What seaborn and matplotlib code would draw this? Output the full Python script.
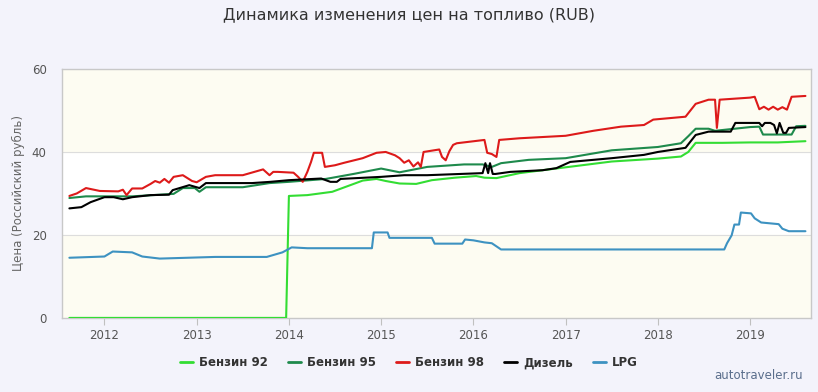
import numpy as np
import pandas as pd
import matplotlib
matplotlib.use("Agg")
import matplotlib.pyplot as plt
import seaborn as sns

# decimal years and prices (RUB)
benz92_t = [2011.62, 2013.97, 2014.0, 2014.2, 2014.47, 2014.8, 2014.95, 2015.05, 2015.2, 2015.38,
            2015.55, 2015.8, 2016.03, 2016.12, 2016.25, 2016.5, 2017.0, 2017.5, 2018.0, 2018.25,
            2018.33, 2018.41, 2018.7, 2019.0, 2019.3, 2019.6]
benz92_v = [0.0, 0.0, 29.4, 29.6, 30.4, 33.1, 33.5, 33.0, 32.4, 32.3,
            33.2, 33.8, 34.2, 33.8, 33.7, 34.9, 36.3, 37.7, 38.4, 38.9,
            40.0, 42.2, 42.2, 42.3, 42.3, 42.6]

benz95_t = [2011.62, 2011.8, 2012.3, 2012.75, 2012.85, 2012.98, 2013.03, 2013.1, 2013.5, 2013.79,
            2014.0, 2014.4, 2014.7, 2015.0, 2015.2, 2015.5, 2015.9, 2016.1, 2016.2, 2016.3,
            2016.6, 2017.0, 2017.5, 2018.0, 2018.25, 2018.33, 2018.41, 2018.55, 2018.62, 2019.0,
            2019.1, 2019.14, 2019.45, 2019.5, 2019.6]
benz95_v = [28.9, 29.3, 29.3, 29.9, 31.3, 31.3, 30.4, 31.5, 31.5, 32.5,
            32.8, 33.5, 34.7, 36.0, 35.1, 36.4, 37.0, 37.0, 36.4, 37.3,
            38.1, 38.5, 40.4, 41.2, 42.1, 43.8, 45.6, 45.6, 45.1, 46.0,
            46.1, 44.2, 44.2, 46.2, 46.3]

benz98_t = [2011.62, 2011.7, 2011.8, 2011.95, 2012.15, 2012.2, 2012.24, 2012.3, 2012.41, 2012.5,
            2012.55, 2012.6, 2012.65, 2012.7, 2012.75, 2012.85, 2012.95, 2013.0, 2013.1, 2013.2,
            2013.5, 2013.72, 2013.79, 2013.83, 2013.88, 2014.05, 2014.1, 2014.15, 2014.2, 2014.24,
            2014.27, 2014.36, 2014.39, 2014.5, 2014.6, 2014.8, 2014.95, 2015.05, 2015.15, 2015.2,
            2015.25, 2015.3, 2015.35, 2015.4, 2015.43, 2015.46, 2015.63, 2015.66, 2015.7, 2015.74,
            2015.78, 2015.82, 2016.12, 2016.15, 2016.2, 2016.25, 2016.28, 2016.5, 2017.0, 2017.3,
            2017.6, 2017.85, 2017.95, 2018.3, 2018.41, 2018.55, 2018.62, 2018.64, 2018.67, 2019.0,
            2019.05, 2019.1, 2019.15, 2019.2, 2019.25, 2019.3, 2019.35, 2019.4, 2019.45, 2019.6]
benz98_v = [29.4, 30.0, 31.3, 30.6, 30.5, 30.9, 29.6, 31.2, 31.2, 32.3,
            33.0, 32.6, 33.5, 32.6, 34.0, 34.4, 33.0, 32.7, 34.0, 34.4,
            34.4, 35.8, 34.4, 35.2, 35.2, 35.0, 34.0, 32.8, 35.2, 37.6,
            39.8, 39.8, 36.4, 36.8, 37.4, 38.5, 39.8, 40.0, 39.2, 38.5,
            37.4, 38.0, 36.5, 37.5, 36.4, 40.0, 40.6, 38.8, 38.0, 40.2,
            41.7, 42.1, 42.9, 39.8, 39.5, 38.8, 42.9, 43.3, 43.9, 45.1,
            46.1, 46.5, 47.8, 48.5, 51.6, 52.6, 52.6, 45.8, 52.6, 53.1,
            53.3, 50.3, 50.9, 50.2, 50.9, 50.2, 50.8, 50.2, 53.3, 53.5]

diesel_t = [2011.62, 2011.75, 2011.85, 2012.0, 2012.1, 2012.2, 2012.3, 2012.5, 2012.7, 2012.74,
            2012.92, 2013.03, 2013.1, 2013.6, 2013.8, 2014.0, 2014.35, 2014.45, 2014.52, 2014.56,
            2015.0, 2015.25, 2015.5, 2016.1, 2016.13, 2016.16, 2016.18, 2016.21, 2016.24, 2016.4,
            2016.75, 2016.9, 2017.05, 2017.5, 2017.85, 2018.0, 2018.3, 2018.41, 2018.55, 2018.79,
            2018.84, 2019.1, 2019.13, 2019.16, 2019.22, 2019.26, 2019.29, 2019.32, 2019.36, 2019.39,
            2019.42, 2019.6]
diesel_v = [26.4, 26.7, 27.9, 29.1, 29.1, 28.6, 29.1, 29.6, 29.7, 30.8,
            32.0, 31.3, 32.5, 32.5, 32.8, 33.2, 33.6, 32.8, 32.8, 33.5,
            34.0, 34.4, 34.4, 34.9, 37.3, 34.9, 37.3, 34.7, 34.7, 35.2,
            35.6, 36.1, 37.6, 38.5, 39.3, 40.0, 41.0, 44.1, 44.9, 44.9,
            47.0, 47.0, 46.2, 47.0, 47.0, 46.5, 44.5, 47.0, 44.6, 44.6,
            45.8, 46.0]

lpg_t = [2011.62, 2012.0, 2012.09, 2012.3, 2012.41, 2012.6, 2013.2, 2013.76, 2013.93, 2014.03,
         2014.2, 2014.9, 2014.92, 2015.07, 2015.09, 2015.55, 2015.58, 2015.88, 2015.91, 2016.0,
         2016.12, 2016.2, 2016.3, 2018.72, 2018.75, 2018.8, 2018.83, 2018.88, 2018.9, 2019.01,
         2019.05, 2019.12, 2019.31, 2019.35, 2019.42, 2019.6]
lpg_v = [14.5, 14.8, 16.0, 15.8, 14.8, 14.3, 14.7, 14.7, 15.8, 17.0,
         16.8, 16.8, 20.6, 20.6, 19.3, 19.3, 17.9, 17.9, 18.9, 18.7,
         18.2, 18.0, 16.5, 16.5, 18.0, 19.9, 22.5, 22.5, 25.4, 25.2,
         24.0, 23.0, 22.6, 21.5, 20.9, 20.9]

series_names = ["Бензин 92", "Бензин 95", "Бензин 98", "Дизель", "LPG"]
series_t = [benz92_t, benz95_t, benz98_t, diesel_t, lpg_t]
series_v = [benz92_v, benz95_v, benz98_v, diesel_v, lpg_v]
colors = ["#33dd33", "#1e8a4c", "#dd1a1a", "#000000", "#3d92c1"]
years = list(range(2012, 2020))

frames = []
for name, t, v in zip(series_names, series_t, series_v):
    frames.append(pd.DataFrame({"year": t, "price": v, "fuel": name}))
df = pd.concat(frames, ignore_index=True)

sns.set_theme(style="white")
plt.rcParams["font.family"] = ["DejaVu Sans"]

fig = plt.figure(figsize=(8.18, 3.92), dpi=100, facecolor="#f3f3fb")
ax = fig.add_axes([0.0758, 0.189, 0.9156, 0.635])
ax.set_facecolor("#ffffff")

# alternating bands
ax.axhspan(0, 20, color="#fdfcf2", zorder=0)
ax.axhspan(40, 60, color="#fdfcf2", zorder=0)
for yv in [20, 40, 60]:
    ax.axhline(yv, color="#dddddd", lw=0.8, zorder=1)

sns.lineplot(data=df, x="year", y="price", hue="fuel", palette=colors,
             hue_order=series_names, estimator=None, sort=False,
             linewidth=1.5, ax=ax, legend=False, zorder=3)

ax.set_xlim(2011.54, 2019.66)
ax.set_ylim(0, 60)
ax.set_xticks(years)
ax.set_xticklabels([str(y) for y in years])
ax.set_yticks([0, 20, 40, 60])
ax.tick_params(axis="x", colors="#c0c0c0", length=5, width=0.8, labelcolor="#555555",
               labelsize=8.5, pad=3, bottom=True)
ax.tick_params(axis="y", length=0, labelcolor="#555555", labelsize=8.5, pad=11)
for s in ax.spines.values():
    s.set_color("#c8c8c8")
    s.set_linewidth(1.0)

ax.set_xlabel("")
ax.set_ylabel("Цена (Российский рубль)", color="#666666", fontsize=8.5, labelpad=5)

fig.text(0.5, 0.962, "Динамика изменения цен на топливо (RUB)", ha="center", va="center",
         fontsize=11.5, color="#333333")

handles = [plt.Line2D([0], [0], color=c, lw=2) for c in colors]
fig.legend(handles, series_names, loc="center", bbox_to_anchor=(0.5, 0.074), ncol=5,
           frameon=False, handlelength=1.1, handletextpad=0.5, columnspacing=1.7,
           prop={"weight": "bold", "size": 8.5}, labelcolor="#333333")

fig.text(0.982, 0.025, "autotraveler.ru", ha="right", va="bottom", fontsize=8.5, color="#5a6e8c")

plt.savefig("out.png", dpi=100, facecolor=fig.get_facecolor())
